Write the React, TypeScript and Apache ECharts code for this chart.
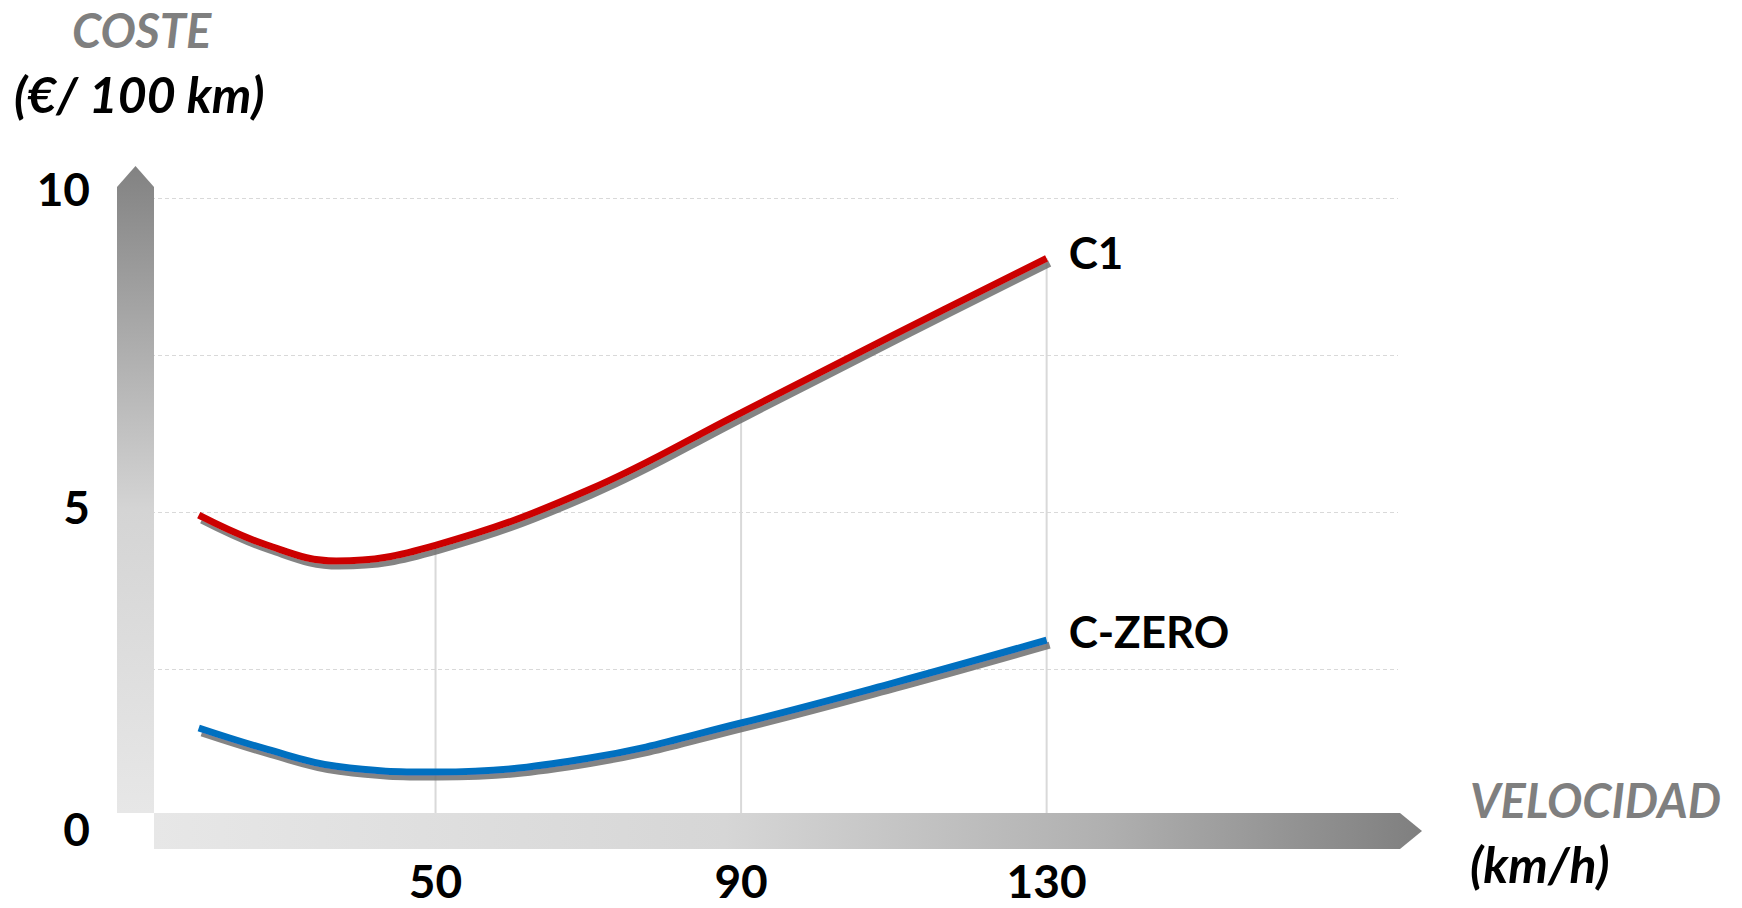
import React, { useEffect, useRef } from "react";
import * as echarts from "echarts";

const speeds = [19, 28, 37, 50, 70, 90, 110, 130];
const c1Cost = [4.95, 4.47, 4.22, 4.47, 5.35, 6.58, 7.82, 9.04];
const cZeroCost = [1.56, 1.22, 0.95, 0.86, 1.08, 1.64, 2.28, 2.96];
const seriesNames = ["C1", "C-ZERO"];
const xTickLabels = [50, 90, 130];
const yTickLabels = [0, 5, 10];
const dropSpeeds = [50, 90, 130];

const FONT = "Lato, 'Open Sans', sans-serif";

export default function App() {
  const ref = useRef<HTMLDivElement>(null);
  useEffect(() => {
    if (!ref.current) return;
    const chart = echarts.init(ref.current, undefined, { renderer: "svg" });

    const c1Data = speeds.map((s, i) => [s, c1Cost[i]]);
    const czData = speeds.map((s, i) => [s, cZeroCost[i]]);
    const dropSeries = dropSpeeds.map((s) => ({
      type: "line",
      z: 1,
      silent: true,
      symbol: "none",
      lineStyle: { color: "#d9d9d9", width: 2 },
      data: [
        [s, 0],
        [s, c1Cost[speeds.indexOf(s)]],
      ],
    }));

    const yShift: Record<number, number[]> = { 10: [0, 0, 20, 0], 5: [0, 0, 12, 0], 0: [4, 0, 0, 0] };

    const lineShadow = {
      shadowColor: "rgba(110,110,110,0.85)",
      shadowOffsetX: 3,
      shadowOffsetY: 5,
      shadowBlur: 1,
    };

    chart.setOption({
      animation: false,
      backgroundColor: "#ffffff",
      grid: { left: 130, top: 198, width: 1268, bottom: 82, containLabel: false },
      xAxis: {
        type: "value",
        min: 10,
        max: 176,
        axisLine: { show: false },
        axisTick: { show: false },
        splitLine: { show: false },
        axisLabel: {
          customValues: xTickLabels,
          margin: 31,
          color: "#000",
          fontSize: 46,
          fontWeight: "bold",
          fontFamily: FONT,
        },
      },
      yAxis: {
        type: "value",
        min: 0,
        max: 10,
        interval: 2.5,
        axisLine: { show: false },
        axisTick: { show: false },
        splitLine: {
          show: true,
          showMinLine: false,
          lineStyle: { color: "#d9d9d9", type: [4, 3], width: 1.2 },
        },
        axisLabel: {
          customValues: yTickLabels,
          margin: 40,
          formatter: (v: number) => `{v${v}|${v}}`,
          rich: Object.fromEntries(
            yTickLabels.map((v) => [
              `v${v}`,
              {
                color: "#000",
                fontSize: 46,
                fontWeight: "bold",
                fontFamily: FONT,
                padding: yShift[v],
              },
            ])
          ),
        },
      },
      graphic: [
        {
          type: "polygon",
          z: 3,
          silent: true,
          shape: { points: [[117, 813], [117, 187], [135.5, 166], [154, 187], [154, 813]] },
          style: {
            fill: {
              type: "linear",
              x: 0, y: 0, x2: 0, y2: 1,
              colorStops: [
                { offset: 0, color: "#828282" },
                { offset: 0.53, color: "#d4d4d4" },
                { offset: 1, color: "#e7e7e7" },
              ],
            },
          },
        },
        {
          type: "polygon",
          z: 3,
          silent: true,
          shape: { points: [[154, 813], [1400, 813], [1422, 831], [1400, 849], [154, 849]] },
          style: {
            fill: {
              type: "linear",
              x: 0, y: 0, x2: 1, y2: 0,
              colorStops: [
                { offset: 0, color: "#e7e7e7" },
                { offset: 0.45, color: "#d6d6d6" },
                { offset: 0.75, color: "#b0b0b0" },
                { offset: 1, color: "#7f7f7f" },
              ],
            },
          },
        },
        {
          type: "text",
          z: 3,
          x: 72,
          y: 30,
          style: { text: "COSTE", fill: "#7f7f7f", font: `italic bold 47px ${FONT}`, align: "left", verticalAlign: "middle" },
        },
        {
          type: "text",
          z: 3,
          x: 14,
          y: 94,
          style: { text: "(€/ 100 km)", fill: "#000", font: `italic bold 50px ${FONT}`, align: "left", verticalAlign: "middle" },
        },
        {
          type: "text",
          z: 3,
          x: 1470,
          y: 800,
          style: { text: "VELOCIDAD", fill: "#7f7f7f", font: `italic bold 47px ${FONT}`, align: "left", verticalAlign: "middle" },
        },
        {
          type: "text",
          z: 3,
          x: 1470,
          y: 864,
          style: { text: "(km/h)", fill: "#000", font: `italic bold 50px ${FONT}`, align: "left", verticalAlign: "middle" },
        },
      ],
      series: [
        ...dropSeries,
        {
          name: seriesNames[0],
          type: "line",
          z: 4,
          smooth: 0.4,
          symbol: "none",
          data: c1Data,
          lineStyle: { color: "#cc0000", width: 7, cap: "butt", ...lineShadow },
          endLabel: {
            show: true,
            formatter: (p: any) => p.seriesName,
            color: "#000",
            fontSize: 44,
            fontWeight: "bold",
            fontFamily: FONT,
            distance: 22,
            offset: [0, -6],
          },
        },
        {
          name: seriesNames[1],
          type: "line",
          z: 4,
          smooth: 0.4,
          symbol: "none",
          data: czData,
          lineStyle: { color: "#0070c0", width: 7, cap: "butt", ...lineShadow },
          endLabel: {
            show: true,
            formatter: (p: any) => p.seriesName,
            color: "#000",
            fontSize: 44,
            fontWeight: "bold",
            fontFamily: FONT,
            distance: 22,
            offset: [0, -9],
          },
        },
      ],
    });
    return () => chart.dispose();
  }, []);
  return (
    <div
      ref={ref}
      style={{ position: "absolute", left: 0, top: 0, width: 1742, height: 908 }}
    />
  );
}
